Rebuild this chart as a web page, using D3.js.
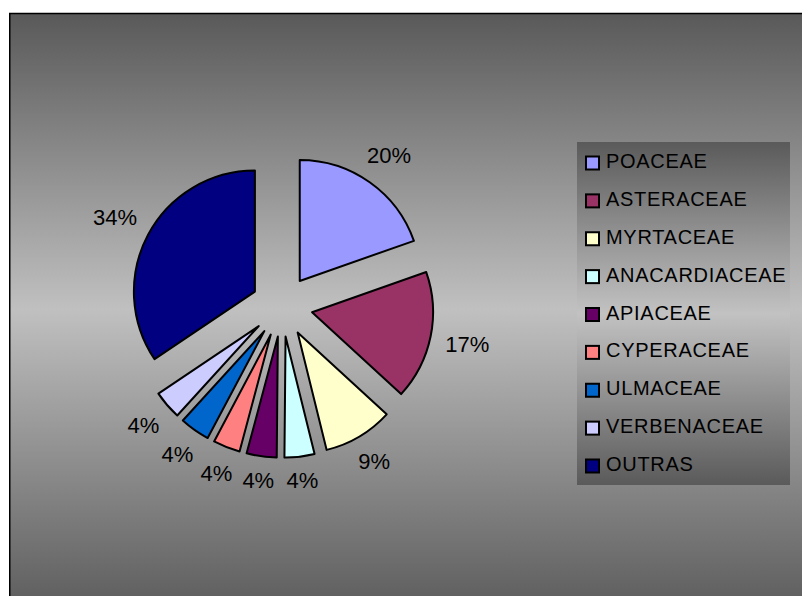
<!DOCTYPE html>
<html>
<head>
<meta charset="utf-8">
<script src="https://cdn.jsdelivr.net/npm/d3@7/dist/d3.min.js"></script>
<style>
  html, body { margin: 0; padding: 0; background: #ffffff; }
  svg { display: block; }
  text { font-family: "Liberation Sans", Arial, sans-serif; fill: #000; }
</style>
</head>
<body>
<svg id="chart" width="802" height="596"></svg>
<script>
// Plant families and their share of the total (%)
const categories = ["POACEAE", "ASTERACEAE", "MYRTACEAE", "ANACARDIACEAE", "APIACEAE",
                    "CYPERACEAE", "ULMACEAE", "VERBENACEAE", "OUTRAS"];
const values = [19.6, 17.2, 9.3, 4.0, 4.0, 3.6, 4.0, 3.8, 34.4];
const colors = ["#9999FF", "#993366", "#FFFFCC", "#CCFFFF", "#660066",
                "#FF8080", "#0066CC", "#CCCCFF", "#000080"];

const svg = d3.select("#chart");
const defs = svg.append("defs");

function vGradient(id, dark1, light, dark2) {
  const g = defs.append("linearGradient").attr("id", id)
    .attr("x1", 0).attr("y1", 0).attr("x2", 0).attr("y2", 1);
  g.append("stop").attr("offset", "0%").attr("stop-color", dark1);
  g.append("stop").attr("offset", "50%").attr("stop-color", light);
  g.append("stop").attr("offset", "100%").attr("stop-color", dark2);
}
vGradient("bgGrad", "#595959", "#c0c0c0", "#5e5e5e");
vGradient("legGrad", "#5a5a5a", "#c2c2c2", "#5a5a5a");

// Chart area with shaded background
svg.append("rect")
  .attr("x", 9.75).attr("y", 13.5)
  .attr("width", 820).attr("height", 592)
  .attr("fill", "url(#bgGrad)")
  .attr("stroke", "#000").attr("stroke-width", 1.5);

// Exploded pie
const cx = 282, cy = 306, radius = 121, explode = 30.7, labelGap = 166;
const total = d3.sum(values);
const pie = d3.pie().sort(null).value(d => d).startAngle(0).endAngle(2 * Math.PI);
const arcs = pie(values);
const arc = d3.arc().innerRadius(0).outerRadius(radius);
const mid = d => (d.startAngle + d.endAngle) / 2;

const pieG = svg.append("g").attr("transform", `translate(${cx},${cy})`);

const slices = pieG.selectAll("g.slice").data(arcs).enter().append("g")
  .attr("class", "slice")
  .attr("transform", d => `translate(${Math.sin(mid(d)) * explode},${-Math.cos(mid(d)) * explode})`);

slices.append("path")
  .attr("d", arc)
  .attr("fill", (d, i) => colors[i])
  .attr("stroke", "#000")
  .attr("stroke-width", 2)
  .attr("stroke-linejoin", "round");

// Percentage labels: the text box sits just outside each slice along its middle angle
const labels = pieG.selectAll("text.pct").data(arcs).enter().append("text")
  .attr("class", "pct")
  .attr("dy", "0.35em")
  .attr("text-anchor", "middle")
  .style("font-size", "22px")
  .text(d => Math.round(d.value / total * 100) + "%");

labels.each(function (d) {
  const w = this.getComputedTextLength(), h = 16;
  const sx = Math.sin(mid(d)), sy = -Math.cos(mid(d));
  const r = labelGap + Math.abs(sx) * w / 2 + Math.abs(sy) * h / 2;
  d3.select(this).attr("x", sx * r).attr("y", sy * r);
});

// Legend
const legX = 577, legY = 142, legW = 213, legH = 343;
svg.append("rect")
  .attr("x", legX).attr("y", legY)
  .attr("width", legW).attr("height", legH)
  .attr("fill", "url(#legGrad)");

const rowY = d3.scalePoint().domain(categories).range([161, 464]);

const items = svg.selectAll("g.leg").data(categories).enter().append("g")
  .attr("class", "leg")
  .attr("transform", d => `translate(0,${rowY(d)})`);

items.append("rect")
  .attr("x", 586).attr("y", -4.5)
  .attr("width", 13).attr("height", 13)
  .attr("fill", (d, i) => colors[i])
  .attr("stroke", "#000").attr("stroke-width", 2);

items.append("text")
  .attr("x", 606).attr("y", 7)
  .style("font-size", "20px")
  .style("letter-spacing", "0.7px")
  .text(d => d);
</script>
</body>
</html>
